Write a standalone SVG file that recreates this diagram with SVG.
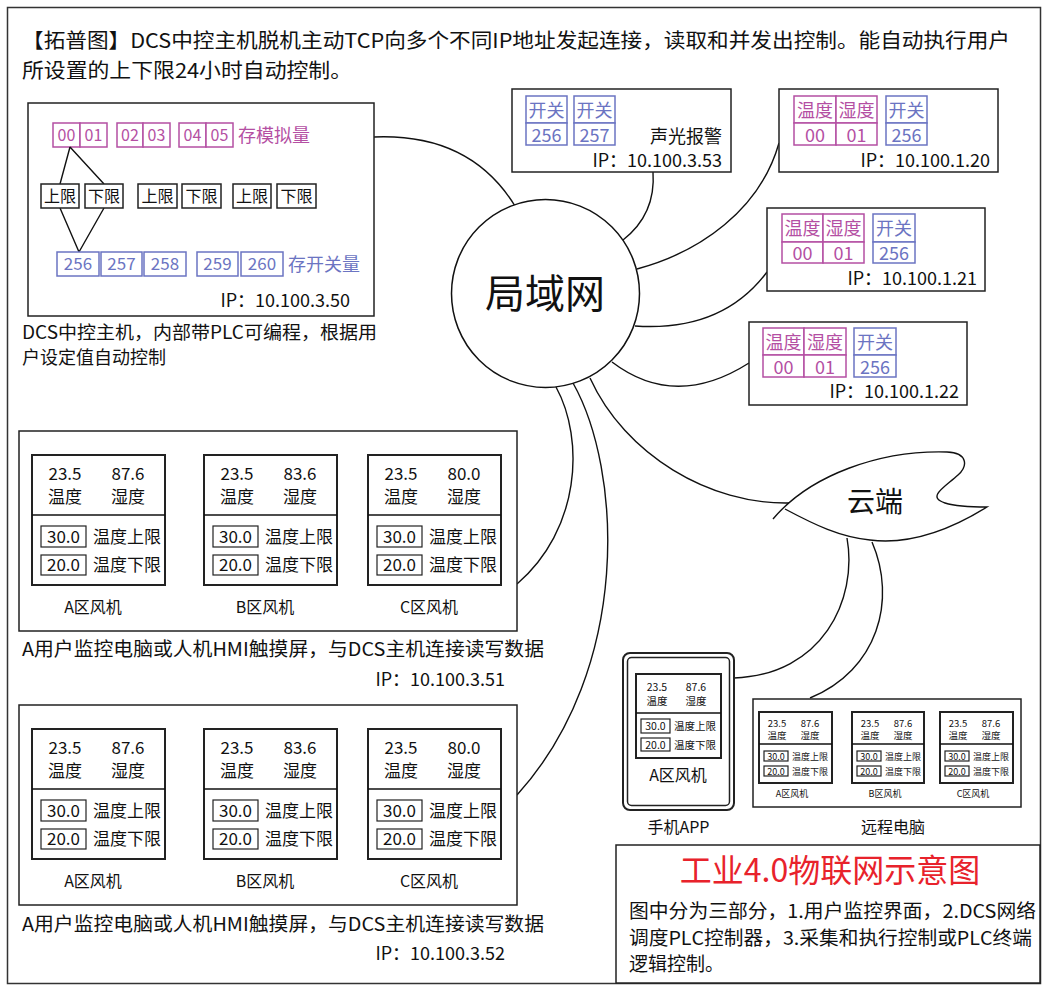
<svg xmlns="http://www.w3.org/2000/svg" width="1047" height="990" viewBox="0 0 1047 990">
<style>
text{font-family:"Noto Sans CJK SC","Noto Sans",sans-serif;fill:#111;}
.box{fill:#fff;stroke:#222;stroke-width:1.5;}
.pnl{fill:#fff;stroke:#222;stroke-width:2;}
.vb{fill:#fff;stroke:#222;stroke-width:1.2;}
.ln{fill:none;stroke:#111;stroke-width:1.4;}
.mg{fill:#fff;stroke:#b44fa3;stroke-width:1.5;}
.bl{fill:#fff;stroke:#6b74c2;stroke-width:1.5;}
.tm{fill:#b44fa3;}
.tb{fill:#6b74c2;}
.c{text-anchor:middle;}
.e{text-anchor:end;}
</style>
<rect x="7.5" y="7.5" width="1033" height="976" fill="#fff" stroke="#333" stroke-width="1.5"/>
<g id="title">
<text x="22" y="48" font-size="20" textLength="988" lengthAdjust="spacingAndGlyphs">【拓普图】DCS中控主机脱机主动TCP向多个不同IP地址发起连接，读取和并发出控制。能自动执行用户</text>
<text x="22" y="78" font-size="20" textLength="330" lengthAdjust="spacingAndGlyphs">所设置的上下限24小时自动控制。</text>
</g>
<g id="connectors">
<path class="ln" d="M374,137 Q470,133 515,206"/>
<path class="ln" d="M653,172 C655,200 646,222 623,240"/>
<path class="ln" d="M779,143 C760,210 700,252 637,269"/>
<path class="ln" d="M635,326 Q722,332 767,272"/>
<path class="ln" d="M612,362 Q675,410 749,363"/>
<path class="ln" d="M590,378 C625,455 710,505 790,503"/>
<path class="ln" d="M556,387 C585,440 580,530 517,584"/>
<path class="ln" d="M573,383 C622,470 632,668 517,795"/>
<path class="ln" d="M847,538 C858,600 822,675 734,678"/>
<path class="ln" d="M872,542 C897,600 878,670 810,698"/>
</g>
<g id="lan">
<circle cx="545.5" cy="293.5" r="94" fill="#fff" stroke="#111" stroke-width="1.5"/>
<text x="545" y="308" font-size="40" class="c">局域网</text>
</g>
<g id="cloud">
<path d="M773,519 C810,475 880,450 947,452 C968,453 968,466 958,475 C945,487 926,497 945,503 C958,507 975,507 987,507 C950,530 910,545 870,540 C840,537 815,525 785,509" fill="#fff" stroke="#111" stroke-width="1.4"/>
<text x="875" y="512" font-size="28" class="c">云端</text>
</g>
<g id="dcs">
<rect class="box" x="28" y="103" width="346" height="213"/>
<rect class="mg" x="53" y="123" width="27" height="24"/><rect class="mg" x="80" y="123" width="27" height="24"/>
<rect class="mg" x="117" y="123" width="26" height="24"/><rect class="mg" x="143" y="123" width="27" height="24"/>
<rect class="mg" x="179" y="123" width="27" height="24"/><rect class="mg" x="206" y="123" width="27" height="24"/>
<g font-size="16" class="c">
<text class="tm" x="66.5" y="141">00</text><text class="tm" x="93.5" y="141">01</text>
<text class="tm" x="130" y="141">02</text><text class="tm" x="156.5" y="141">03</text>
<text class="tm" x="192.5" y="141">04</text><text class="tm" x="219.5" y="141">05</text>
</g>
<text class="tm" x="238" y="142" font-size="18">存模拟量</text>
<path class="ln" d="M70,147 L60,184 M70,147 L104,184 M60,208 L79,252 M104,208 L79,252"/>
<rect class="box" x="41" y="184" width="38" height="24"/><rect class="box" x="85" y="184" width="38" height="24"/>
<rect class="box" x="138" y="184" width="39" height="24"/><rect class="box" x="182" y="184" width="39" height="24"/>
<rect class="box" x="233" y="184" width="38" height="24"/><rect class="box" x="277" y="184" width="39" height="24"/>
<g font-size="16" class="c">
<text x="60" y="202">上限</text><text x="104" y="202">下限</text>
<text x="157.5" y="202">上限</text><text x="201.5" y="202">下限</text>
<text x="252" y="202">上限</text><text x="296.5" y="202">下限</text>
</g>
<rect class="bl" x="57" y="252" width="42" height="24"/><rect class="bl" x="101" y="252" width="41" height="24"/>
<rect class="bl" x="144" y="252" width="42" height="24"/><rect class="bl" x="197" y="252" width="41" height="24"/>
<rect class="bl" x="241" y="252" width="42" height="24"/>
<g font-size="17" class="c">
<text class="tb" x="78" y="270">256</text><text class="tb" x="121.5" y="270">257</text>
<text class="tb" x="165" y="270">258</text><text class="tb" x="217.5" y="270">259</text>
<text class="tb" x="262" y="270">260</text>
</g>
<text class="tb" x="288" y="271" font-size="18">存开关量</text>
<text x="350" y="307" font-size="18" class="e">IP：10.100.3.50</text>
<text x="22" y="339" font-size="18" textLength="355" lengthAdjust="spacingAndGlyphs">DCS中控主机，内部带PLC可编程，根据用</text>
<text x="22" y="364" font-size="18">户设定值自动控制</text>
</g>
<g id="alarm353">
<rect class="box" x="512" y="89" width="219" height="83"/>
<rect class="bl" x="526" y="96" width="41" height="27"/><rect class="bl" x="526" y="123" width="41" height="22"/>
<rect class="bl" x="574" y="96" width="41" height="27"/><rect class="bl" x="574" y="123" width="41" height="22"/>
<g font-size="18" class="c">
<text class="tb" x="546.5" y="117">开关</text><text class="tb" x="546.5" y="142">256</text>
<text class="tb" x="594.5" y="117">开关</text><text class="tb" x="594.5" y="142">257</text>
</g>
<text x="722" y="143" font-size="18" class="e">声光报警</text>
<text x="722" y="167" font-size="18" class="e">IP：10.100.3.53</text>
</g>
<g id="dev120">
<rect class="box" x="779" y="89" width="219" height="83"/>
<rect class="mg" x="794" y="96" width="42" height="27"/><rect class="mg" x="836" y="96" width="41" height="27"/>
<rect class="mg" x="794" y="123" width="42" height="22"/><rect class="mg" x="836" y="123" width="41" height="22"/>
<rect class="bl" x="886" y="96" width="41" height="27"/><rect class="bl" x="886" y="123" width="41" height="22"/>
<g font-size="18" class="c">
<text class="tm" x="815" y="117">温度</text><text class="tm" x="856.5" y="117">湿度</text>
<text class="tm" x="815" y="142">00</text><text class="tm" x="856.5" y="142">01</text>
<text class="tb" x="906.5" y="117">开关</text><text class="tb" x="906.5" y="142">256</text>
</g>
<text x="990" y="167" font-size="18" class="e">IP：10.100.1.20</text>
</g>
<g id="dev121">
<rect class="box" x="767" y="208" width="218" height="83"/>
<rect class="mg" x="782" y="214" width="41" height="28"/><rect class="mg" x="823" y="214" width="41" height="28"/>
<rect class="mg" x="782" y="242" width="41" height="21"/><rect class="mg" x="823" y="242" width="41" height="21"/>
<rect class="bl" x="873" y="214" width="42" height="28"/><rect class="bl" x="873" y="242" width="42" height="21"/>
<g font-size="18" class="c">
<text class="tm" x="802.5" y="235">温度</text><text class="tm" x="843.5" y="235">湿度</text>
<text class="tm" x="802.5" y="260">00</text><text class="tm" x="843.5" y="260">01</text>
<text class="tb" x="894" y="235">开关</text><text class="tb" x="894" y="260">256</text>
</g>
<text x="977" y="285" font-size="18" class="e">IP：10.100.1.21</text>
</g>
<g id="dev122">
<rect class="box" x="749" y="322" width="218" height="83"/>
<rect class="mg" x="763" y="328" width="41" height="27"/><rect class="mg" x="804" y="328" width="42" height="27"/>
<rect class="mg" x="763" y="355" width="41" height="22"/><rect class="mg" x="804" y="355" width="42" height="22"/>
<rect class="bl" x="854" y="328" width="42" height="27"/><rect class="bl" x="854" y="355" width="42" height="22"/>
<g font-size="18" class="c">
<text class="tm" x="783.5" y="349">温度</text><text class="tm" x="825" y="349">湿度</text>
<text class="tm" x="783.5" y="374">00</text><text class="tm" x="825" y="374">01</text>
<text class="tb" x="875" y="349">开关</text><text class="tb" x="875" y="374">256</text>
</g>
<text x="959" y="398" font-size="18" class="e">IP：10.100.1.22</text>
</g>
<g id="hmi351">
<rect class="box" x="19" y="431" width="498" height="200"/>
<g transform="translate(32,455)">
<rect class="pnl" width="133" height="130"/><path class="ln" d="M0,60 H133"/>
<g font-size="17" class="c"><text x="33" y="25">23.5</text><text x="96" y="25">87.6</text><text x="33" y="48">温度</text><text x="96" y="48">湿度</text></g>
<rect class="vb" x="9" y="71" width="45" height="21"/><rect class="vb" x="9" y="100" width="45" height="20"/>
<g font-size="17"><text class="c" x="31.5" y="88">30.0</text><text class="c" x="31.5" y="116">20.0</text><text x="61" y="88">温度上限</text><text x="61" y="116">温度下限</text></g>
<text class="c" x="61" y="158" font-size="16">A区风机</text>
</g>
<g transform="translate(204,455)">
<rect class="pnl" width="133" height="130"/><path class="ln" d="M0,60 H133"/>
<g font-size="17" class="c"><text x="33" y="25">23.5</text><text x="96" y="25">83.6</text><text x="33" y="48">温度</text><text x="96" y="48">湿度</text></g>
<rect class="vb" x="9" y="71" width="45" height="21"/><rect class="vb" x="9" y="100" width="45" height="20"/>
<g font-size="17"><text class="c" x="31.5" y="88">30.0</text><text class="c" x="31.5" y="116">20.0</text><text x="61" y="88">温度上限</text><text x="61" y="116">温度下限</text></g>
<text class="c" x="61" y="158" font-size="16">B区风机</text>
</g>
<g transform="translate(368,455)">
<rect class="pnl" width="133" height="130"/><path class="ln" d="M0,60 H133"/>
<g font-size="17" class="c"><text x="33" y="25">23.5</text><text x="96" y="25">80.0</text><text x="33" y="48">温度</text><text x="96" y="48">湿度</text></g>
<rect class="vb" x="9" y="71" width="45" height="21"/><rect class="vb" x="9" y="100" width="45" height="20"/>
<g font-size="17"><text class="c" x="31.5" y="88">30.0</text><text class="c" x="31.5" y="116">20.0</text><text x="61" y="88">温度上限</text><text x="61" y="116">温度下限</text></g>
<text class="c" x="61" y="158" font-size="16">C区风机</text>
</g>
<text x="22" y="656" font-size="19" textLength="522" lengthAdjust="spacingAndGlyphs">A用户监控电脑或人机HMI触摸屏，与DCS主机连接读写数据</text>
<text x="505" y="686" font-size="18" class="e">IP：10.100.3.51</text>
</g>
<g id="hmi352">
<rect class="box" x="19" y="705" width="498" height="200"/>
<g transform="translate(32,729)">
<rect class="pnl" width="133" height="130"/><path class="ln" d="M0,60 H133"/>
<g font-size="17" class="c"><text x="33" y="25">23.5</text><text x="96" y="25">87.6</text><text x="33" y="48">温度</text><text x="96" y="48">湿度</text></g>
<rect class="vb" x="9" y="71" width="45" height="21"/><rect class="vb" x="9" y="100" width="45" height="20"/>
<g font-size="17"><text class="c" x="31.5" y="88">30.0</text><text class="c" x="31.5" y="116">20.0</text><text x="61" y="88">温度上限</text><text x="61" y="116">温度下限</text></g>
<text class="c" x="61" y="158" font-size="16">A区风机</text>
</g>
<g transform="translate(204,729)">
<rect class="pnl" width="133" height="130"/><path class="ln" d="M0,60 H133"/>
<g font-size="17" class="c"><text x="33" y="25">23.5</text><text x="96" y="25">83.6</text><text x="33" y="48">温度</text><text x="96" y="48">湿度</text></g>
<rect class="vb" x="9" y="71" width="45" height="21"/><rect class="vb" x="9" y="100" width="45" height="20"/>
<g font-size="17"><text class="c" x="31.5" y="88">30.0</text><text class="c" x="31.5" y="116">20.0</text><text x="61" y="88">温度上限</text><text x="61" y="116">温度下限</text></g>
<text class="c" x="61" y="158" font-size="16">B区风机</text>
</g>
<g transform="translate(368,729)">
<rect class="pnl" width="133" height="130"/><path class="ln" d="M0,60 H133"/>
<g font-size="17" class="c"><text x="33" y="25">23.5</text><text x="96" y="25">80.0</text><text x="33" y="48">温度</text><text x="96" y="48">湿度</text></g>
<rect class="vb" x="9" y="71" width="45" height="21"/><rect class="vb" x="9" y="100" width="45" height="20"/>
<g font-size="17"><text class="c" x="31.5" y="88">30.0</text><text class="c" x="31.5" y="116">20.0</text><text x="61" y="88">温度上限</text><text x="61" y="116">温度下限</text></g>
<text class="c" x="61" y="158" font-size="16">C区风机</text>
</g>
<text x="22" y="931" font-size="19" textLength="522" lengthAdjust="spacingAndGlyphs">A用户监控电脑或人机HMI触摸屏，与DCS主机连接读写数据</text>
<text x="505" y="960" font-size="18" class="e">IP：10.100.3.52</text>
</g>
<g id="phone">
<rect x="623" y="653" width="111" height="157" rx="7" fill="#fff" stroke="#222" stroke-width="2"/>
<rect x="627.5" y="657.5" width="102" height="148" rx="4" fill="none" stroke="#222" stroke-width="1.5"/>
<g transform="translate(636,674)">
<rect class="pnl" width="85" height="84" stroke-width="1.5"/><path class="ln" d="M0,39 H85"/>
<g font-size="10.5" class="c"><text x="21" y="17">23.5</text><text x="60" y="17">87.6</text><text x="21" y="31">温度</text><text x="60" y="31">湿度</text></g>
<rect class="vb" x="5" y="45" width="29" height="14"/><rect class="vb" x="5" y="64" width="29" height="13"/>
<g font-size="10.5"><text class="c" x="19.5" y="56">30.0</text><text class="c" x="19.5" y="75">20.0</text><text x="38" y="56">温度上限</text><text x="38" y="75">温度下限</text></g>
</g>
<text class="c" x="678" y="781" font-size="16">A区风机</text>
<text class="c" x="678.5" y="833" font-size="16">手机APP</text>
</g>
<g id="remotepc">
<rect class="box" x="753" y="699" width="268" height="108"/>
<g transform="translate(759,712)">
<rect class="pnl" width="73" height="71" stroke-width="1.5"/><path class="ln" d="M0,32 H73"/>
<g font-size="9.5" class="c"><text x="18" y="15">23.5</text><text x="51" y="15">87.6</text><text x="18" y="27">温度</text><text x="51" y="27">湿度</text></g>
<rect class="vb" x="5" y="39" width="24" height="10"/><rect class="vb" x="5" y="54" width="24" height="10"/>
<g font-size="9"><text class="c" x="17" y="47.5">30.0</text><text class="c" x="17" y="62.5">20.0</text><text x="33" y="47.5">温度上限</text><text x="33" y="62.5">温度下限</text></g>
<text class="c" x="33" y="85" font-size="9">A区风机</text>
</g>
<g transform="translate(852,712)">
<rect class="pnl" width="72" height="71" stroke-width="1.5"/><path class="ln" d="M0,32 H72"/>
<g font-size="9.5" class="c"><text x="18" y="15">23.5</text><text x="51" y="15">87.6</text><text x="18" y="27">温度</text><text x="51" y="27">湿度</text></g>
<rect class="vb" x="5" y="39" width="24" height="10"/><rect class="vb" x="5" y="54" width="24" height="10"/>
<g font-size="9"><text class="c" x="17" y="47.5">30.0</text><text class="c" x="17" y="62.5">20.0</text><text x="33" y="47.5">温度上限</text><text x="33" y="62.5">温度下限</text></g>
<text class="c" x="33" y="85" font-size="9">B区风机</text>
</g>
<g transform="translate(940,712)">
<rect class="pnl" width="73" height="71" stroke-width="1.5"/><path class="ln" d="M0,32 H73"/>
<g font-size="9.5" class="c"><text x="18" y="15">23.5</text><text x="51" y="15">87.6</text><text x="18" y="27">温度</text><text x="51" y="27">湿度</text></g>
<rect class="vb" x="5" y="39" width="24" height="10"/><rect class="vb" x="5" y="54" width="24" height="10"/>
<g font-size="9"><text class="c" x="17" y="47.5">30.0</text><text class="c" x="17" y="62.5">20.0</text><text x="33" y="47.5">温度上限</text><text x="33" y="62.5">温度下限</text></g>
<text class="c" x="33" y="85" font-size="9">C区风机</text>
</g>
<text class="c" x="893" y="833" font-size="16">远程电脑</text>
</g>
<g id="legend">
<rect class="box" x="616" y="845" width="424" height="138"/>
<text class="c" x="830" y="882" font-size="32" style="fill:#e8222b">工业4.0物联网示意图</text>
<text x="629" y="918" font-size="19" textLength="407" lengthAdjust="spacingAndGlyphs">图中分为三部分，1.用户监控界面，2.DCS网络</text>
<text x="629" y="945" font-size="19" textLength="403" lengthAdjust="spacingAndGlyphs">调度PLC控制器，3.采集和执行控制或PLC终端</text>
<text x="629" y="971" font-size="19">逻辑控制。</text>
</g>
</svg>
